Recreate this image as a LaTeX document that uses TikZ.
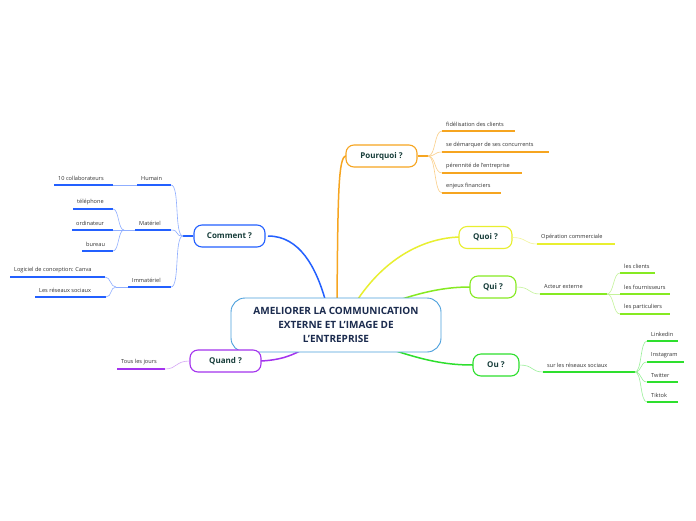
\documentclass[tikz,border=0pt]{standalone}
\usepackage{fontspec}
\setmainfont{Open Sans}
\definecolor{cblue}{HTML}{2360FF}
\definecolor{cbluel}{HTML}{8FAEFF}
\definecolor{corange}{HTML}{F6A520}
\definecolor{corangel}{HTML}{FBCF88}
\definecolor{cyellow}{HTML}{E8EF30}
\definecolor{cyellowl}{HTML}{F2F59A}
\definecolor{clgreen}{HTML}{86EA22}
\definecolor{clgreenl}{HTML}{C4F39A}
\definecolor{cgreen}{HTML}{2EDF2E}
\definecolor{cgreenl}{HTML}{9AF09A}
\definecolor{cpurple}{HTML}{A433EE}
\definecolor{cpurplel}{HTML}{D6A8F6}
\definecolor{ccentral}{HTML}{4A9FDC}
\definecolor{ctitle}{HTML}{1B2B4E}
\definecolor{ctopic}{HTML}{173D3A}
\definecolor{cleaf}{HTML}{333333}
\tikzset{
  central/.style={draw=ccentral, line width=0.9pt, rounded corners=14pt, fill=white,
    minimum width=210pt, minimum height=54pt, align=center, text=ctitle,
    font=\fontsize{10}{14}\selectfont\bfseries},
  topic/.style={draw=#1, line width=1.1pt, rounded corners=8pt, fill=white,
    minimum height=22pt, text=ctopic, font=\fontsize{8}{10}\selectfont\bfseries, inner sep=0pt},
  leaftext/.style={text=cleaf, font=\fontsize{5.6}{7}\selectfont, inner sep=0pt, anchor=west},
  uline/.style={draw=#1, line width=1.3pt},
  thin/.style={draw=#1, line width=0.6pt},
  mainbr/.style={draw=#1, line width=1.5pt},
}
\newcommand\leafline[6]{%
  \coordinate (#1-l) at (#2,#4);
  \coordinate (#1-r) at (#3,#4);
  \draw[uline=#5] (#1-l) -- (#1-r);
  \node[leaftext] (#1) at ({#2+4},{#4-7}) {#6};
}
\begin{document}
\begin{tikzpicture}[x=1pt,y=-1pt]
\useasboundingbox (0,0) rectangle (696,520);
\fill[white] (0,0) rectangle (696,520);

% anchor points on the central node
\coordinate (cComment) at (325,299);
\coordinate (cPourquoi) at (337,299);
\coordinate (cQuoi) at (358,299);
\coordinate (cQui) at (402,299);
\coordinate (cOu) at (396,351);
\coordinate (cQuand) at (300,351);

% main branches
\draw[mainbr=cblue] (268,236) .. controls (300,236) and (316,268) .. (cComment);
\draw[mainbr=corange] (cPourquoi) .. controls (338,200) and (338,156) .. (346,156);
\draw[mainbr=cyellow] (cQuoi) .. controls (390,252) and (430,238) .. (459,237);
\draw[mainbr=clgreen] (cQui) .. controls (430,290) and (450,287) .. (470,287);
\draw[mainbr=cgreen] (cOu) .. controls (430,362) and (450,365) .. (473,365);
\draw[mainbr=cpurple] (261,361) .. controls (280,360) and (290,356) .. (cQuand);

\node[central] (center) at (336,325) {AMELIORER LA COMMUNICATION\\EXTERNE ET L'IMAGE DE\\L'ENTREPRISE};

\node[topic=cblue, minimum width=71pt] (comment) at (229.5,236) {Comment ?};
\node[topic=corange, minimum width=71pt] (pourquoi) at (381.5,156) {Pourquoi ?};
\node[topic=cyellow, minimum width=53pt] (quoi) at (485.5,237.5) {Quoi ?};
\node[topic=clgreen, minimum width=46pt] (qui) at (493,287) {Qui ?};
\node[topic=cgreen, minimum width=46pt] (ou) at (496,365) {Ou ?};
\node[topic=cpurple, minimum width=71pt] (quand) at (225.5,361) {Quand ?};

% ---- Comment ----
\coordinate (jC) at (183,236);
\draw[line width=1.3pt, cblue] (comment.west) -- (jC);
\leafline{humain}{137}{171}{185}{cblue}{Humain}
\leafline{materiel}{135}{171}{230}{cblue}{Matériel}
\leafline{immateriel}{128}{171}{287}{cblue}{Immatériel}
\foreach \n in {humain,materiel,immateriel}
  \draw[thin=cbluel] (jC) .. controls +(-9,0) and +(9,0) .. (\n-r);
\leafline{collab}{54}{113}{185}{cblue}{10 collaborateurs}
\draw[thin=cbluel] (humain-l) -- (collab-r);
\leafline{tel}{73}{113}{209}{cblue}{téléphone}
\leafline{ordi}{72}{113}{230}{cblue}{ordinateur}
\leafline{bureau}{82}{113}{251}{cblue}{bureau}
\coordinate (jM) at (124,230);
\draw[thin=cbluel] (materiel-l) -- (jM);
\foreach \n in {tel,ordi,bureau}
  \draw[thin=cbluel] (jM) .. controls +(-6,0) and +(6,0) .. (\n-r);
\leafline{canva}{10}{105}{277}{cblue}{Logiciel de conception: Canva}
\leafline{reseaux}{35}{106}{297}{cblue}{Les réseaux sociaux}
\coordinate (jI) at (116,287);
\draw[thin=cbluel] (immateriel-l) -- (jI);
\foreach \n in {canva,reseaux}
  \draw[thin=cbluel] (jI) .. controls +(-6,0) and +(6,0) .. (\n-r);

% ---- Pourquoi ----
\coordinate (jP) at (428,156);
\draw[line width=1.3pt, corange] (pourquoi.east) -- (jP);
\leafline{fid}{442}{515}{131}{corange}{fidélisation des clients}
\leafline{dem}{442}{549}{152}{corange}{se démarquer de ses concurrents}
\leafline{per}{442}{522}{173}{corange}{pérennité de l'entreprise}
\leafline{enj}{442}{501}{193}{corange}{enjeux financiers}
\foreach \n in {fid,dem,per,enj}
  \draw[thin=corangel] (jP) .. controls +(8,0) and +(-8,0) .. (\n-l);

% ---- Quoi ----
\leafline{oper}{537}{615}{244}{cyellow}{Opération commerciale}
\draw[thin=cyellowl] (quoi.east) .. controls +(14,0) and +(-12,0) .. (oper-l);

% ---- Qui ----
\leafline{acteur}{540}{607}{294}{clgreen}{Acteur externe}
\draw[thin=clgreenl] (qui.east) .. controls +(14,0) and +(-12,0) .. (acteur-l);
\leafline{clients}{620}{655}{273}{clgreen}{les clients}
\leafline{fourn}{620}{670}{294}{clgreen}{les fournisseurs}
\leafline{partic}{620}{670}{314}{clgreen}{les particuliers}
\foreach \n in {clients,fourn,partic}
  \draw[thin=clgreenl] (acteur-r) .. controls +(7,0) and +(-7,0) .. (\n-l);

% ---- Ou ----
\leafline{surres}{543}{635}{372}{cgreen}{sur les réseaux sociaux}
\draw[thin=cgreenl] (ou.east) .. controls +(14,0) and +(-12,0) .. (surres-l);
\leafline{linkedin}{647}{678}{341}{cgreen}{Linkedin}
\leafline{insta}{647}{684}{362}{cgreen}{Instagram}
\leafline{twitter}{647}{678}{382}{cgreen}{Twitter}
\leafline{tiktok}{647}{678}{402}{cgreen}{Tiktok}
\foreach \n in {linkedin,insta,twitter,tiktok}
  \draw[thin=cgreenl] (surres-r) .. controls +(7,0) and +(-7,0) .. (\n-l);

% ---- Quand ----
\leafline{tous}{117}{165}{369}{cpurple}{Tous les jours}
\draw[thin=cpurplel] (quand.west) .. controls +(-14,0) and +(12,0) .. (tous-r);
\end{tikzpicture}
\end{document}
